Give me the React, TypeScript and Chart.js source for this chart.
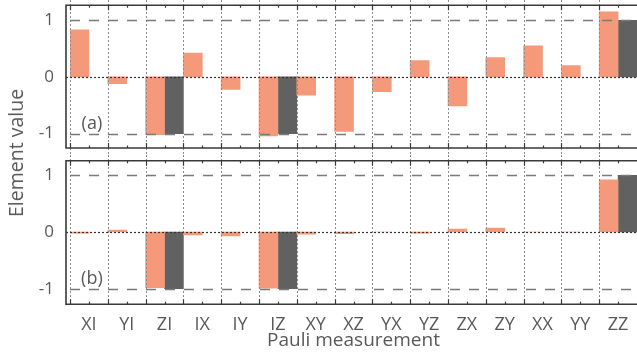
import React, { useEffect, useRef } from "react";
import { Chart, registerables } from "chart.js";

Chart.register(...registerables);

const categories = ["XI", "YI", "ZI", "IX", "IY", "IZ", "XY", "XZ", "YX", "YZ", "ZX", "ZY", "XX", "YY", "ZZ"];
const measuredA = [0.83, -0.12, -1.02, 0.42, -0.22, -1.04, -0.32, -0.96, -0.26, 0.29, -0.51, 0.34, 0.55, 0.2, 1.15];
const idealA = [null, null, -1, null, null, -1, null, null, null, null, null, null, null, null, 1];
const measuredB = [-0.02, 0.035, -0.98, -0.05, -0.07, -0.99, -0.04, -0.03, 0, -0.02, 0.05, 0.07, 0, 0, 0.92];
const idealB = [null, null, -1, null, null, -1, null, null, null, null, null, null, null, null, 1];
const yTicks = [-1, 0, 1];
const panelLabels = ["(a)", "(b)"];
const xTitle = "Pauli measurement";
const yTitle = "Element value";

const ORANGE = "#f5997b";
const DARK = "#616161";
const TEXT = "#595959";
const FONT = "'Open Sans', sans-serif";

function makePanelPlugin(label: string, vTop: number, vBottomExtra: boolean) {
  return {
    id: "panelDecor",
    afterDatasetsDraw(chart: any) {
      const { ctx, chartArea: ca, scales } = chart;
      const x = scales.x;
      const y = scales.y;
      const n = categories.length;
      const step = x.getPixelForValue(1) - x.getPixelForValue(0);
      const frameLeft = ca.left - 4;
      const vBottom = vBottomExtra ? chart.height : ca.bottom;
      ctx.save();
      // vertical dotted lines at category boundaries
      ctx.strokeStyle = "#8c8c8c";
      ctx.lineWidth = 1;
      ctx.setLineDash([2, 2]);
      for (let i = 0; i < n; i++) {
        const bx = Math.round(x.getPixelForValue(i) - step / 2) + 0.5;
        ctx.beginPath();
        ctx.moveTo(bx, vTop);
        ctx.lineTo(bx, vBottom);
        ctx.stroke();
      }
      // dashed at +-1
      ctx.strokeStyle = "#7a7a7a";
      ctx.lineWidth = 1.3;
      ctx.setLineDash([10, 9]);
      [-1, 1].forEach((v) => {
        const py = Math.round(y.getPixelForValue(v)) + 0.5;
        ctx.beginPath();
        ctx.moveTo(frameLeft + 4, py);
        ctx.lineTo(ca.right, py);
        ctx.stroke();
      });
      // dotted at 0
      ctx.strokeStyle = "#333";
      ctx.lineWidth = 1.2;
      ctx.setLineDash([2, 2]);
      {
        const py = Math.round(y.getPixelForValue(0)) + 0.5;
        ctx.beginPath();
        ctx.moveTo(frameLeft, py);
        ctx.lineTo(ca.right, py);
        ctx.stroke();
      }
      // frame
      ctx.setLineDash([]);
      ctx.strokeStyle = "#3a3a3a";
      ctx.lineWidth = 1.6;
      ctx.beginPath();
      ctx.moveTo(ca.right + 2, ca.top);
      ctx.lineTo(frameLeft, ca.top);
      ctx.lineTo(frameLeft, ca.bottom);
      ctx.lineTo(ca.right + 2, ca.bottom);
      ctx.stroke();
      // ticks on top and bottom edges
      ctx.lineWidth = 1.2;
      for (let i = 0; i < n; i++) {
        const bx = Math.round(x.getPixelForValue(i) - step / 2) + 0.5;
        const cx = Math.round(x.getPixelForValue(i)) + 0.5;
        ctx.beginPath();
        ctx.moveTo(bx, ca.top);
        ctx.lineTo(bx, ca.top + 5);
        ctx.moveTo(bx, ca.bottom);
        ctx.lineTo(bx, ca.bottom - 5);
        ctx.moveTo(cx, ca.top);
        ctx.lineTo(cx, ca.top + 2.5);
        ctx.moveTo(cx, ca.bottom);
        ctx.lineTo(cx, ca.bottom - 2.5);
        ctx.stroke();
      }
      // panel label
      ctx.fillStyle = TEXT;
      ctx.font = `18px ${FONT}`;
      ctx.textAlign = "center";
      ctx.textBaseline = "middle";
      ctx.fillText(label, x.getPixelForValue(0) + 3, y.getPixelForValue(-0.83));
      ctx.restore();
    },
  };
}

function buildConfig(measured: (number | null)[], ideal: (number | null)[], min: number, max: number, showX: boolean, label: string, padTop: number, padBottom: number): any {
  return {
    type: "bar",
    data: {
      labels: categories,
      datasets: [
        { label: "measured", data: measured, backgroundColor: ORANGE, borderWidth: 0, categoryPercentage: 1, barPercentage: 1 },
        { label: "ideal", data: ideal, backgroundColor: DARK, borderWidth: 0, categoryPercentage: 1, barPercentage: 1 },
      ],
    },
    options: {
      responsive: false,
      animation: false,
      events: [],
      layout: { padding: { top: padTop, bottom: padBottom, left: 0, right: 0 } },
      plugins: { legend: { display: false }, tooltip: { enabled: false } },
      scales: {
        x: {
          display: showX,
          offset: true,
          grid: { display: false },
          border: { display: false },
          ticks: { color: TEXT, font: { family: FONT, size: 18 }, padding: 2, autoSkip: false, maxRotation: 0 },
          title: { display: showX, text: xTitle, color: TEXT, font: { family: FONT, size: 19 }, padding: { top: 0, bottom: 2 } },
          afterFit: (s: any) => {
            if (showX) s.height = 49.7;
            s.paddingLeft = 0;
            s.paddingRight = 0;
          },
        },
        y: {
          min,
          max,
          grid: { display: false, drawTicks: false },
          border: { display: false },
          afterBuildTicks: (s: any) => {
            s.ticks = yTicks.map((v) => ({ value: v }));
          },
          afterFit: (s: any) => {
            s.width = 70;
            s.paddingTop = 0;
            s.paddingBottom = 0;
          },
          ticks: {
            color: TEXT,
            font: { family: FONT, size: 17 },
            padding: 16,
            callback: (v: any) => String(v),
          },
        },
      },
    },
    plugins: [makePanelPlugin(label, 0, !showX)],
  };
}

export default function App() {
  const topRef = useRef<HTMLCanvasElement | null>(null);
  const botRef = useRef<HTMLCanvasElement | null>(null);

  useEffect(() => {
    const c1 = new Chart(topRef.current as HTMLCanvasElement, buildConfig(measuredA, idealA, -1.255, 1.265, false, panelLabels[0], 5.3, 7));
    const c2 = new Chart(botRef.current as HTMLCanvasElement, buildConfig(measuredB, idealB, -1.275, 1.257, true, panelLabels[1], 5.7, 0));
    return () => {
      c1.destroy();
      c2.destroy();
    };
  }, []);

  return (
    <div style={{ position: "fixed", left: 0, top: 0, width: 637, height: 354, background: "#fff" }}>
      <canvas ref={topRef} width={637} height={155} style={{ position: "absolute", left: 0, top: 0, width: 637, height: 155 }} />
      <canvas ref={botRef} width={637} height={199} style={{ position: "absolute", left: 0, top: 155, width: 637, height: 199 }} />
      <div
        style={{
          position: "absolute",
          left: 16,
          top: 153,
          transform: "translate(-50%, -50%) rotate(-90deg)",
          whiteSpace: "nowrap",
          fontFamily: FONT,
          fontSize: 19.5,
          lineHeight: "20px",
          color: TEXT,
        }}
      >
        {yTitle}
      </div>
    </div>
  );
}
